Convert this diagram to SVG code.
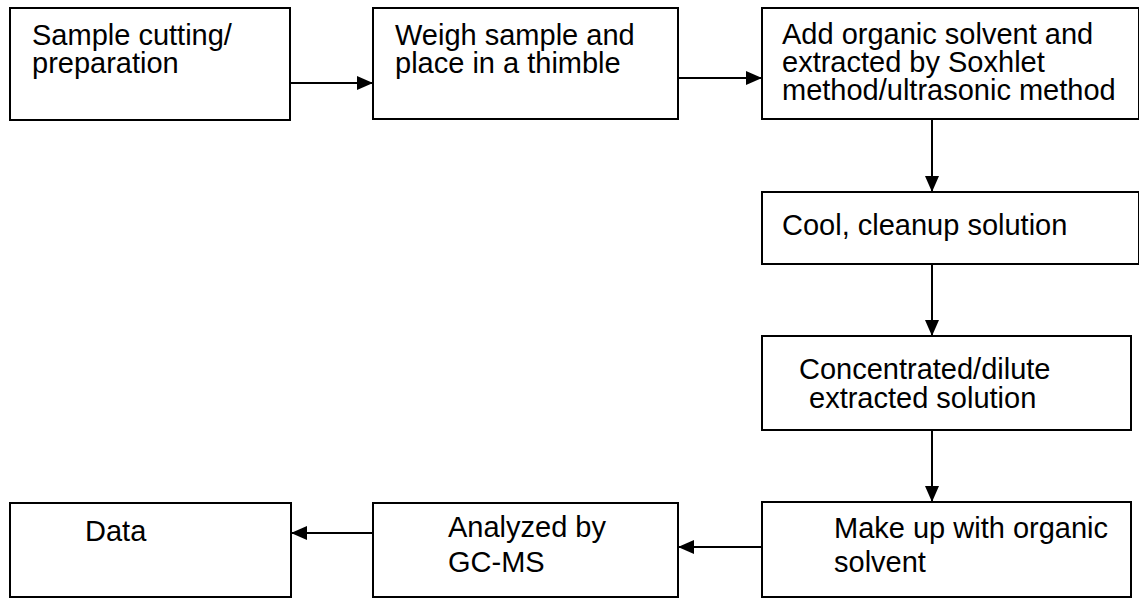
<svg xmlns="http://www.w3.org/2000/svg" width="1139" height="601" viewBox="0 0 1139 601">
<style>
.box{fill:#fff;stroke:#000;stroke-width:2}
.t{font-family:"Liberation Sans",Arial,sans-serif;font-size:29px;fill:#000}
.c{stroke:#000;stroke-width:2;fill:none}
</style>
<defs>
<marker id="ah" viewBox="0 0 16 14" refX="16" refY="7" markerWidth="16" markerHeight="14" markerUnits="userSpaceOnUse" orient="auto">
<path d="M0,0 L16,7 L0,14 Z" fill="#000"/>
</marker>
</defs>
<rect width="1139" height="601" fill="#fff"/>
<g id="n1"><rect class="box" x="10" y="8" width="280" height="112"/><text class="t" x="32" y="45">Sample cutting/</text><text class="t" x="32" y="73">preparation</text></g>
<g id="n2"><rect class="box" x="373" y="8" width="305" height="111"/><text class="t" x="395" y="45">Weigh sample and</text><text class="t" x="395" y="73">place in a thimble</text></g>
<g id="n3"><rect class="box" x="762" y="8" width="377" height="111"/><text class="t" x="782" y="44">Add organic solvent and</text><text class="t" x="782" y="72">extracted by Soxhlet</text><text class="t" x="782" y="100">method/ultrasonic method</text></g>
<g id="n4"><rect class="box" x="762" y="192" width="377" height="72"/><text class="t" x="782" y="235">Cool, cleanup solution</text></g>
<g id="n5"><rect class="box" x="762" y="336" width="369" height="94"/><text class="t" x="799" y="379">Concentrated/dilute</text><text class="t" x="809" y="408">extracted solution</text></g>
<g id="n6"><rect class="box" x="762" y="502" width="369" height="95"/><text class="t" x="834" y="538">Make up with organic</text><text class="t" x="834" y="572">solvent</text></g>
<g id="n7"><rect class="box" x="373" y="503" width="305" height="94"/><text class="t" x="448" y="537">Analyzed by</text><text class="t" x="448" y="572">GC-MS</text></g>
<g id="n8"><rect class="box" x="10" y="503" width="281" height="94"/><text class="t" x="85" y="541">Data</text></g>
<g id="connectors">
<line class="c" x1="290" y1="83" x2="373" y2="83" marker-end="url(#ah)"/>
<line class="c" x1="678" y1="78" x2="762" y2="78" marker-end="url(#ah)"/>
<line class="c" x1="932" y1="119" x2="932" y2="192" marker-end="url(#ah)"/>
<line class="c" x1="932" y1="264" x2="932" y2="336" marker-end="url(#ah)"/>
<line class="c" x1="932" y1="430" x2="932" y2="502" marker-end="url(#ah)"/>
<line class="c" x1="762" y1="547" x2="678" y2="547" marker-end="url(#ah)"/>
<line class="c" x1="373" y1="533" x2="291" y2="533" marker-end="url(#ah)"/>
</g>
</svg>
